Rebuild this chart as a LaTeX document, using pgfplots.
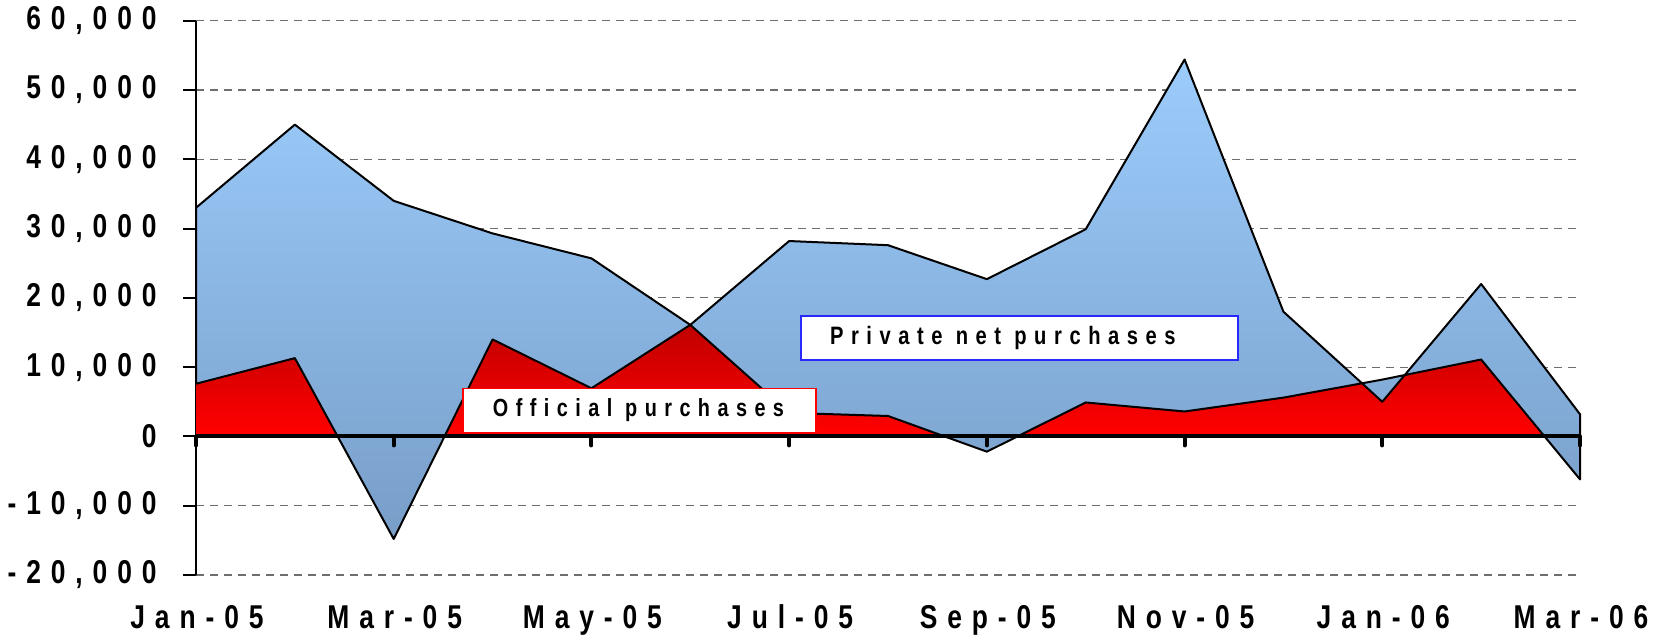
\documentclass[border=0pt]{standalone}
\usepackage{fontspec}
\setmainfont{Liberation Sans}
\newfontfamily\chartfont[FakeStretch=0.8, LetterSpace=30]{Liberation Sans}
\usepackage{pgfplots}
\usepackage{pgfplotstable}
\pgfplotsset{compat=1.18}

\definecolor{bluetop}{RGB}{156,204,252}
\definecolor{bluebot}{RGB}{120,158,200}
\definecolor{redtop}{RGB}{192,0,0}
\definecolor{redbot}{RGB}{255,0,0}
\definecolor{gridgray}{RGB}{110,110,110}
\definecolor{boxblue}{RGB}{40,40,255}

% Official purchases (area from zero)
\pgfplotstableread{
x y
0 7600
1 11300
2 -14800
3 14000
4 6950
5 16100
6 3400
7 2950
8 -2200
9 4900
10 3600
11 5600
12 8200
13 11100
14 -6200
14 0
0 0
}\redpoly

% Private net purchases, stacked on official: top = official + private
\pgfplotstableread{
x y
0 33000
1 45000
2 34000
3 29300
4 25700
5 16100
6 28200
7 27600
8 22700
9 29900
10 54400
11 18000
12 5000
13 22000
14 3200
14 -6200
13 11100
12 8200
11 5600
10 3600
9 4900
8 -2200
7 2950
6 3400
5 16100
4 6950
3 14000
2 -14800
1 11300
0 7600
}\bluepoly

\begin{document}
\begin{tikzpicture}
\useasboundingbox (0,0) rectangle (829bp,317.5bp);
\begin{axis}[
  at={(98bp,30bp)}, anchor=south west,
  scale only axis, width=692bp, height=277.15bp,
  xmin=0, xmax=14, ymin=-20000, ymax=60000,
  axis lines*=left,
  x axis line style={draw=none},
  y axis line style={line width=1bp, black},
  xtick={0,2,...,14},
  xticklabels={Jan-05,Mar-05,May-05,Jul-05,Sep-05,Nov-05,Jan-06,Mar-06},
  xtick style={draw=none},
  ytick={-20000,-10000,...,60000},
  yticklabels={{-20,000},{-10,000},{0},{10,000},{20,000},{30,000},{40,000},{50,000},{60,000}},
  scaled y ticks=false,
  ytick style={line width=1bp, black},
  tick align=outside,
  major tick length=6.5bp,
  ymajorgrids,
  grid style={gridgray, dash pattern=on 4bp off 3bp, line width=0.6bp},
  tick label style={font=\chartfont\bfseries\fontsize{16.5bp}{18bp}\selectfont},
  xticklabel style={yshift=-5bp, xshift=0.5bp},
  yticklabel style={xshift=-9.7bp},
  clip=false,
]
\addplot[draw=none, top color=redtop, bottom color=redbot, middle color=redbot] table {\redpoly} -- cycle;
\addplot[draw=black, line width=1bp, line join=round, top color=bluetop, bottom color=bluebot] table {\bluepoly} -- cycle;

\draw[line width=2bp] (axis cs:0,0) -- (axis cs:14,0);
\pgfplotsinvokeforeach{0,2,4,6,8,10,12,14}{
  \draw[line width=2bp, line cap=round] (axis cs:#1,0) -- ([yshift=-4.5bp]axis cs:#1,0);
}

\draw[boxblue, line width=0.8bp, fill=white] (axis cs:6.12,11026) rectangle (axis cs:10.54,17420);
\node[anchor=west, inner sep=0pt, font=\chartfont\bfseries\fontsize{12.6bp}{14bp}\selectfont] at (axis cs:6.41,14200) {Private net purchases};
\draw[red, line width=0.8bp, fill=white] (axis cs:2.70,590) rectangle (axis cs:6.27,6940);
\node[anchor=west, inner sep=0pt, font=\chartfont\bfseries\fontsize{12.4bp}{14bp}\selectfont] at (axis cs:3.0,3770) {Official purchases};
\end{axis}
\end{tikzpicture}
\end{document}
